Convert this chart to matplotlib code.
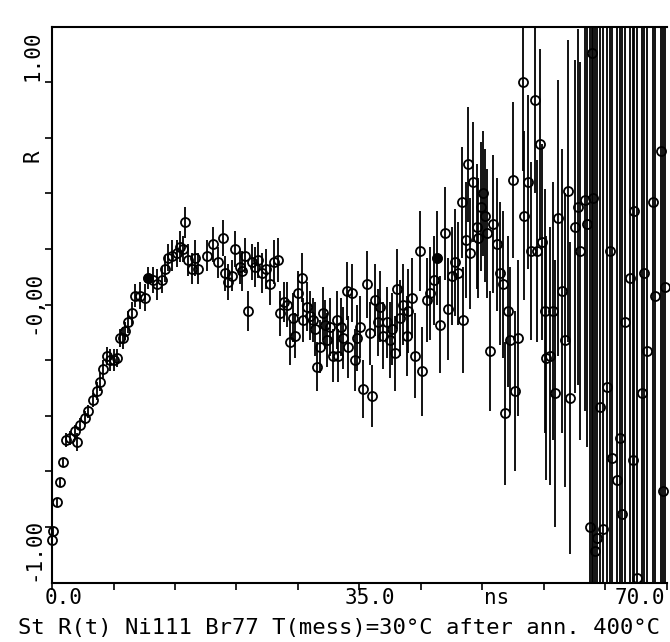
import numpy as np
import matplotlib
matplotlib.use("Agg")
import matplotlib.pyplot as plt
import matplotlib.transforms as mtransforms

plt.rcParams['font.family'] = ['DejaVu Sans Mono']

# time channels (ns)
t_ns = [0.0, 0.1, 0.57, 0.91, 1.25, 1.59, 2.05, 2.62, 2.85, 3.19,
        3.76, 4.10, 4.67, 5.12, 5.46, 5.80, 6.26, 6.60, 7.06, 7.40,
        7.74, 8.08, 8.31, 8.65, 9.11, 9.45, 10.0, 10.6, 10.9, 11.5,
        11.95, 12.5, 12.9, 13.2, 13.7, 14.2, 14.6, 14.9, 15.1, 15.5,
        15.9, 16.3, 16.6, 17.6, 18.3, 18.9, 19.5, 19.7, 20.0, 20.5,
        20.8, 21.4, 21.6, 22.0, 22.3, 22.8, 23.1, 23.4, 23.9, 24.4,
        24.8, 25.3, 25.7, 26.0, 26.4, 26.7, 27.1, 27.4, 27.7, 28.0,
        28.5, 28.6, 29.0, 29.4, 29.7, 29.9, 30.2, 30.5, 30.8, 31.1,
        31.3, 31.6, 32.0, 32.4, 32.6, 32.9, 33.1, 33.6, 33.7, 34.1,
        34.5, 34.7, 35.1, 35.4, 35.9, 36.2, 36.4, 36.8, 37.1, 37.3,
        37.7, 38.1, 38.5, 38.7, 39.0, 39.3, 39.6, 39.9, 40.4, 40.5,
        41.0, 41.3, 41.9, 42.1, 42.7, 43.0, 43.5, 43.8, 44.2, 44.7,
        45.1, 45.5, 45.9, 46.2, 46.7, 46.8, 47.1, 47.3, 47.6, 47.9,
        48.4, 48.5, 48.8, 49.1, 49.3, 49.5, 49.9, 50.2, 50.6, 51.0,
        51.3, 51.6, 51.9, 52.1, 52.5, 52.7, 53.0, 53.6, 53.7, 54.2,
        54.5, 55.0, 55.2, 55.5, 55.8, 56.1, 56.2, 56.7, 57.0, 57.3,
        57.6, 58.0, 58.4, 58.7, 59.0, 59.5, 59.9, 60.1, 60.7, 60.9,
        61.2, 61.5, 61.6, 61.8, 62.0, 62.4, 62.7, 63.2, 63.5, 63.7,
        64.3, 64.6, 64.9, 65.2, 65.8, 66.1, 66.2, 66.6, 67.2, 67.4,
        67.7, 68.4, 68.6, 69.3, 69.5, 69.8]

r_val = [-1.06, -1.02, -0.89, -0.80, -0.71, -0.61, -0.60, -0.57, -0.62, -0.54,
         -0.51, -0.48, -0.43, -0.39, -0.35, -0.29, -0.23, -0.25, -0.25, -0.24,
         -0.15, -0.15, -0.12, -0.08, -0.04, 0.04, 0.04, 0.03, 0.12, 0.11,
         0.09, 0.11, 0.16, 0.21, 0.22, 0.23, 0.26, 0.25, 0.37, 0.20,
         0.16, 0.21, 0.16, 0.22, 0.27, 0.19, 0.30, 0.14, 0.10, 0.13,
         0.25, 0.17, 0.15, 0.22, -0.03, 0.19, 0.17, 0.20, 0.14, 0.16,
         0.09, 0.19, 0.20, -0.04, 0.01, 0.00, -0.17, -0.06, -0.14, 0.05,
         0.12, -0.07, -0.01, -0.05, -0.07, -0.11, -0.28, -0.19, -0.04, -0.09,
         -0.16, -0.10, -0.23, -0.07, -0.23, -0.10, -0.15, 0.06, -0.19, 0.05,
         -0.25, -0.15, -0.10, -0.38, 0.09, -0.13, -0.41, 0.02, -0.08, -0.01,
         -0.14, -0.08, -0.16, -0.11, -0.22, 0.07, -0.06, 0.00, -0.14, -0.03,
         0.03, -0.23, 0.24, -0.30, 0.02, 0.05, 0.11, 0.21, -0.09, 0.32,
         -0.02, 0.13, 0.19, 0.14, 0.46, -0.07, 0.29, 0.63, 0.23, 0.55,
         0.35, 0.30, 0.44, 0.50, 0.40, 0.32, -0.21, 0.36, 0.27, 0.14,
         0.09, -0.49, -0.03, -0.16, 0.56, -0.39, -0.15, 1.00, 0.40, 0.55,
         0.24, 0.92, 0.24, 0.72, 0.28, -0.03, -0.24, -0.23, -0.03, -0.40,
         0.39, 0.06, -0.16, 0.51, -0.42, 0.35, 0.44, 0.24, 0.47, 0.36,
         -1.00, 1.13, 0.48, -1.11, -1.05, -0.46, -1.01, -0.37, 0.24, -0.69,
         -0.79, -0.60, -0.94, -0.08, 0.12, -0.70, 0.42, -1.23, -0.40, 0.14,
         -0.21, 0.46, 0.04, 0.69, -0.84, 0.08]

r_err = [0.02, 0.02, 0.02, 0.02, 0.02, 0.03, 0.03, 0.03, 0.04, 0.03,
         0.03, 0.03, 0.03, 0.04, 0.04, 0.04, 0.04, 0.05, 0.05, 0.04,
         0.04, 0.05, 0.04, 0.05, 0.05, 0.05, 0.06, 0.06, 0.05, 0.06,
         0.07, 0.06, 0.06, 0.06, 0.07, 0.06, 0.07, 0.06, 0.07, 0.07,
         0.07, 0.08, 0.07, 0.07, 0.08, 0.07, 0.08, 0.08, 0.08, 0.07,
         0.08, 0.08, 0.09, 0.08, 0.09, 0.08, 0.09, 0.08, 0.09, 0.09,
         0.09, 0.10, 0.10, 0.10, 0.09, 0.10, 0.10, 0.11, 0.10, 0.10,
         0.11, 0.10, 0.11, 0.11, 0.10, 0.12, 0.11, 0.12, 0.12, 0.11,
         0.12, 0.13, 0.12, 0.13, 0.12, 0.13, 0.14, 0.13, 0.14, 0.13,
         0.14, 0.15, 0.14, 0.13, 0.15, 0.14, 0.14, 0.16, 0.15, 0.16,
         0.15, 0.16, 0.17, 0.16, 0.17, 0.18, 0.17, 0.18, 0.18, 0.19,
         0.18, 0.19, 0.18, 0.20, 0.19, 0.21, 0.20, 0.21, 0.22, 0.21,
         0.23, 0.22, 0.24, 0.23, 0.25, 0.24, 0.26, 0.26, 0.25, 0.27,
         0.28, 0.27, 0.29, 0.28, 0.30, 0.29, 0.27, 0.31, 0.30, 0.32,
         0.33, 0.32, 0.34, 0.33, 0.35, 0.36, 0.35, 0.40, 0.38, 0.39,
         0.40, 0.42, 0.41, 0.43, 0.44, 0.55, 0.55, 0.58, 0.58, 0.60,
         0.62, 0.64, 0.66, 0.68, 0.70, 0.75, 0.80, 0.85, 0.95, 1.00,
         2.5, 2.5, 2.5, 2.5, 2.5, 2.5, 2.5, 2.5, 2.5, 2.5,
         2.5, 2.5, 2.5, 2.5, 2.5, 2.5, 2.5, 2.5, 2.5, 2.5,
         2.5, 2.5, 2.5, 2.5, 2.5, 2.5]

filled_t = [10.9, 43.8]   # the two solid dots

x_ticks = np.arange(0, 71, 7)
y_ticks = np.arange(-1.0, 1.01, 0.25)
x_labels = [(0.0, "0.0"), (36.2, "35.0"), (50.6, "ns"), (69.8, "70.0")]
y_labels = [(1.12, "1.00"), (0.67, "R"), (0.01, "-0,00"), (-1.10, "-1.00")]
caption = "St R(t) Ni111 Br77 T(mess)=30\u00b0C after ann. 400\u00b0C"

t = np.array(t_ns)
r = np.array(r_val)
e = np.array(r_err)

fig = plt.figure(figsize=(6.7, 6.42), dpi=100)
ax = fig.add_axes([52/670, 59.5/642, 615/670, 556/642])

ax.errorbar(t, r, yerr=e, fmt='none', ecolor='black', elinewidth=1.3, capsize=0)
pts, = ax.plot(t, r, 'o', ms=6.5, mfc='none', mec='black', mew=1.3)
pts.set_clip_on(False)
mask = np.isin(t, filled_t)
ax.plot(t[mask], r[mask], 'o', ms=6.5, color='black', clip_on=False)

ax.set_xlim(0, 70)
ax.set_ylim(-1.25, 1.25)
ax.set_xticks(x_ticks)
ax.set_yticks(y_ticks)
ax.tick_params(direction='out', length=5, width=1.2,
               labelbottom=False, labelleft=False)
ax.spines['right'].set_visible(False)
for s in ['left', 'bottom', 'top']:
    ax.spines[s].set_linewidth(1.5)

trans_y = mtransforms.blended_transform_factory(ax.transAxes, ax.transData)
for yv, txt in y_labels:
    ax.text(-0.031, yv, txt, transform=trans_y, rotation=90,
            ha='center', va='center', fontsize=15)

trans_x = mtransforms.blended_transform_factory(ax.transData, ax.transAxes)
for xv, txt in x_labels:
    ha = 'center'
    if txt == "0.0":
        ha = 'left'
        xv = -0.8
    if txt == "70.0":
        ha = 'right'
    ax.text(xv, -0.028, txt, transform=trans_x, ha=ha, va='center', fontsize=15)

fig.text(339/670, 1 - 628/642, caption, ha='center', va='center', fontsize=16)

fig.savefig("out.png", dpi=100)
